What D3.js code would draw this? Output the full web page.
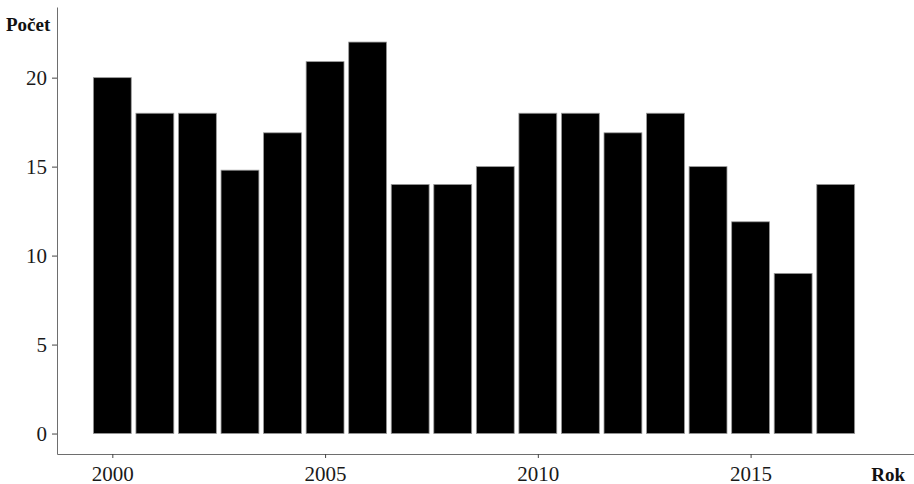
<!DOCTYPE html>
<html>
<head>
<meta charset="utf-8">
<script src="https://cdn.jsdelivr.net/npm/d3@7"></script>
<style>
  html, body { margin: 0; padding: 0; background: #fff; }
  svg { display: block; }
</style>
</head>
<body>
<svg id="chart" width="914" height="484"></svg>
<script>
const years = [2000,2001,2002,2003,2004,2005,2006,2007,2008,2009,2010,2011,2012,2013,2014,2015,2016,2017];
const counts = [20,18,18,14.8,16.9,20.9,22,14,14,15,18,18,16.9,18,15,11.9,9,14];
const xTicks = [2000,2005,2010,2015];
const yTicks = [0,5,10,15,20];
const xTitle = "Rok";
const yTitle = "Počet";

const svg = d3.select("#chart");
const font = "'Liberation Serif', 'Times New Roman', serif";

const x = d3.scaleLinear().domain([1998.70, 2018.84]).range([57, 914]);
const y = d3.scaleLinear().domain([-1.15, 23.97]).range([454, 7]);
const step = x(2001) - x(2000);
const bw = step * 0.89;

// bars
svg.append("g").selectAll("rect")
  .data(years.map((yr, i) => ({yr, v: counts[i]})))
  .join("rect")
  .attr("x", d => x(d.yr) - bw / 2)
  .attr("width", bw)
  .attr("y", d => y(d.v))
  .attr("height", d => y(0) - y(d.v))
  .attr("fill", "#000")
  .attr("stroke", "#9a9a9a")
  .attr("stroke-width", 0.8);

// y axis
const gy = svg.append("g")
  .attr("transform", "translate(57,0)")
  .call(d3.axisLeft(y).tickValues(yTicks).tickSize(5).tickSizeOuter(0).tickPadding(5));
// x axis
const gx = svg.append("g")
  .attr("transform", "translate(0,454)")
  .call(d3.axisBottom(x).tickValues(xTicks).tickFormat(d3.format("d")).tickSize(4).tickSizeOuter(0).tickPadding(8));

[gy, gx].forEach(g => {
  g.select(".domain").attr("stroke", "#6e6e6e").attr("stroke-width", 1);
  g.selectAll(".tick line").attr("stroke", "#444").attr("stroke-width", 1);
  g.selectAll(".tick text")
    .attr("fill", "#1a1a1a")
    .style("font-family", font)
    .style("font-size", "21px");
});
gy.selectAll(".tick text").attr("dy", "0.33em");

// titles
svg.append("text")
  .attr("x", 6).attr("y", 31)
  .style("font-family", font).style("font-size", "19px").style("font-weight", "bold")
  .attr("fill", "#111")
  .text(yTitle);
svg.append("text")
  .attr("x", 905).attr("y", 481)
  .attr("text-anchor", "end")
  .style("font-family", font).style("font-size", "19px").style("font-weight", "bold")
  .attr("fill", "#111")
  .text(xTitle);
</script>
</body>
</html>
